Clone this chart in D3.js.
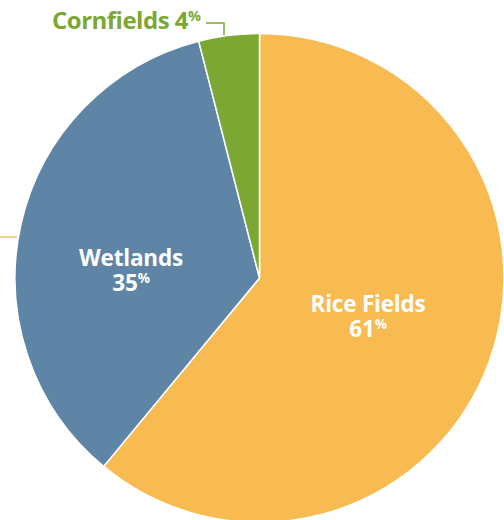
<!DOCTYPE html>
<html>
<head>
<meta charset="utf-8">
<script src="https://cdn.jsdelivr.net/npm/d3@7"></script>
<style>
  body { margin: 0; background: #fff; }
  svg { display: block; }
</style>
</head>
<body>
<div id="chart"></div>
<script>
const categories = ['Rice Fields', 'Wetlands', 'Cornfields'];
const shares = [61, 35, 4];
const colors = ['#f7bb52', '#5e85a6', '#7ca733'];

const width = 504, height = 520;
const cx = 259.5, cy = 278, radius = 244.5;
const font = '"Open Sans", Lato, sans-serif';

const svg = d3.select('#chart').append('svg')
  .attr('width', width)
  .attr('height', height);

const pie = d3.pie().sort(null).value(d => d)(shares);
const arc = d3.arc().innerRadius(0).outerRadius(radius);

const g = svg.append('g').attr('transform', `translate(${cx},${cy})`);

g.selectAll('path')
  .data(pie)
  .join('path')
  .attr('d', arc)
  .attr('fill', (d, i) => colors[i])
  .attr('stroke', '#fff')
  .attr('stroke-width', 1.5);

// stray leader line on the left edge
svg.append('line')
  .attr('x1', 0).attr('x2', 17)
  .attr('y1', 237).attr('y2', 237)
  .attr('stroke', '#e3b457')
  .attr('stroke-width', 1.2);

// label positions (in-slice for the two big slices)
const labelPos = [[368, 311.5], [131, 265.5]];
const fs = 22.5;

labelPos.forEach((p, i) => {
  const t = svg.append('text')
    .attr('x', p[0]).attr('y', p[1])
    .attr('text-anchor', 'middle')
    .attr('font-family', font)
    .attr('font-weight', 700)
    .attr('font-size', fs)
    .attr('letter-spacing', -0.2)
    .attr('fill', '#fff');
  t.append('tspan').attr('x', p[0]).text(categories[i]);
  t.append('tspan').attr('x', p[0]).attr('dy', 25).text(shares[i]);
  t.append('tspan')
    .attr('font-size', fs * 0.6)
    .attr('dy', -fs * 0.33)
    .text('%');
});

// cornfields label outside with leader
const cfs = 24;
const corn = svg.append('text')
  .attr('x', 52).attr('y', 29)
  .attr('font-family', font)
  .attr('font-weight', 700)
  .attr('font-size', cfs)
  .attr('letter-spacing', -0.5)
  .attr('fill', colors[2]);
corn.append('tspan').text(categories[2] + ' ' + shares[2]);
corn.append('tspan')
  .attr('font-size', cfs * 0.6)
  .attr('dy', -cfs * 0.33)
  .text('%');

svg.append('path')
  .attr('d', 'M206,23 H224 V35')
  .attr('fill', 'none')
  .attr('stroke', colors[2])
  .attr('stroke-width', 1.5);
</script>
</body>
</html>
